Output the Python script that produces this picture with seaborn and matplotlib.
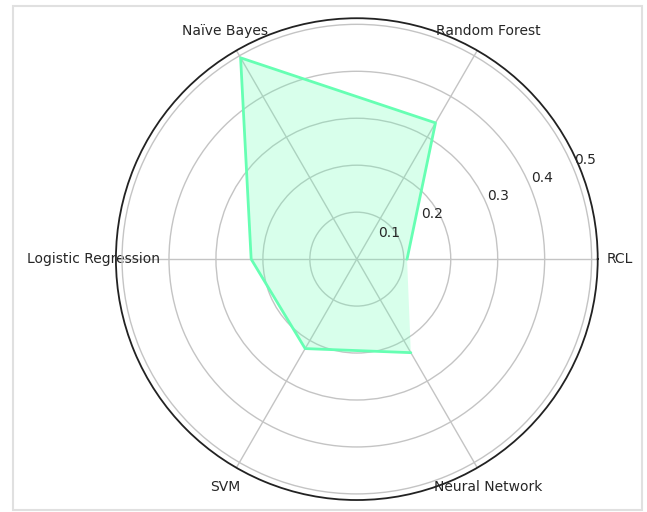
import numpy as np
import pandas as pd
import matplotlib
matplotlib.use("Agg")
import matplotlib.pyplot as plt
import seaborn as sns
from matplotlib.patches import Rectangle

categories = ["RCL", "Random Forest", "Naïve Bayes", "Logistic Regression", "SVM", "Neural Network"]
scores = [0.107, 0.335, 0.495, 0.225, 0.22, 0.23]
r_ticks = [0.1, 0.2, 0.3, 0.4, 0.5]
r_tick_labels = ["0.1", "0.2", "0.3", "0.4", "0.5"]

# where each radial label sits (angle in degrees, radius in data units)
r_label_angles = [39.1, 31.0, 24.1, 23.6, 23.5]
r_label_radii = [0.088, 0.186, 0.329, 0.430, 0.529]

sns.set_style("whitegrid")
plt.rcParams["font.family"] = ["DejaVu Sans"]

angles = np.linspace(0, 2 * np.pi, len(categories), endpoint=False)
df = pd.DataFrame({
    "angle": np.append(angles, angles[0]),
    "score": scores + scores[:1],
})

fig = plt.figure(figsize=(6.47, 5.12), dpi=100)
ax = fig.add_axes([0.179, 0.0234, 0.745, 0.941], projection="polar")

line_color = "#66ffb3"
sns.lineplot(data=df, x="angle", y="score", sort=False, ax=ax,
             color=line_color, linewidth=2)
ax.fill(df["angle"], df["score"], color=line_color, alpha=0.25, linewidth=0)

ax.set_xticks(angles)
ax.set_xticklabels(categories, fontsize=10, color="#262626")
ax.tick_params(axis="x", pad=5.5)
ax.set_yticks(r_ticks)
ax.set_yticklabels([])
for lab, ang, rad in zip(r_tick_labels, r_label_angles, r_label_radii):
    ax.text(np.deg2rad(ang), rad, lab, ha="center", va="center",
            fontsize=10, color="#262626", clip_on=False)
ax.set_ylim(0, 0.513)
ax.set_xlabel("")
ax.set_ylabel("")
ax.grid(True, color="#c4c4c4", linewidth=1.0)
ax.spines["polar"].set_color("#222222")
ax.spines["polar"].set_linewidth(1.3)
ax.set_facecolor("white")

# light frame around the figure
fig.patches.append(Rectangle((13 / 647, 2 / 512), 629 / 647, 504 / 512,
                             transform=fig.transFigure, fill=False,
                             edgecolor="#e0e0e0", linewidth=1.5))

fig.savefig("out.png", dpi=100)
